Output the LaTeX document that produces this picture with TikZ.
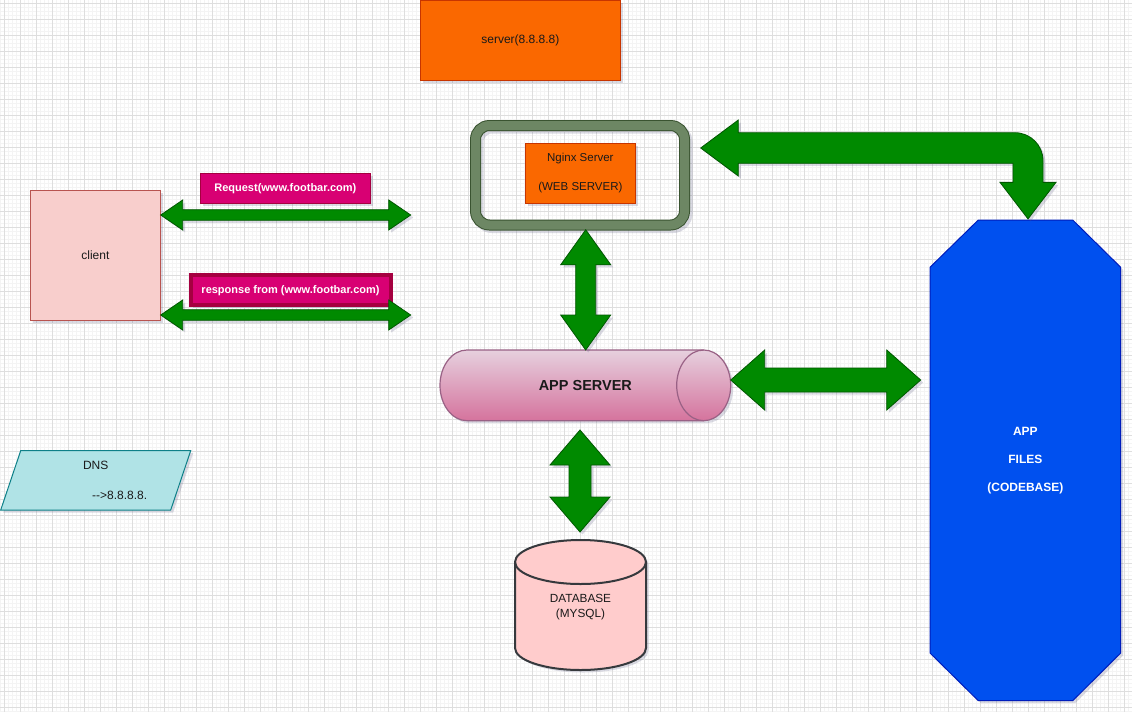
\documentclass[tikz,border=0pt]{standalone}
\usepackage{fontspec}
\setmainfont{Liberation Sans}
\usetikzlibrary{calc,shadows}

\definecolor{gridmajor}{HTML}{DEDEDE}
\definecolor{gridminor}{HTML}{F4F4F4}
\definecolor{orangefill}{HTML}{FA6800}
\definecolor{orangeline}{HTML}{C73500}
\definecolor{framedark}{HTML}{3A5431}
\definecolor{framegreen}{HTML}{6D8764}
\definecolor{clientfill}{HTML}{F8CECC}
\definecolor{clientline}{HTML}{B85450}
\definecolor{labelfill}{HTML}{D80073}
\definecolor{labelline}{HTML}{A50040}
\definecolor{arrowgreen}{HTML}{008A00}
\definecolor{arrowdark}{HTML}{005700}
\definecolor{apptop}{HTML}{E6D0DE}
\definecolor{appbottom}{HTML}{D5739D}
\definecolor{appline}{HTML}{996185}
\definecolor{dbfill}{HTML}{FFCCCC}
\definecolor{dbline}{HTML}{36393D}
\definecolor{dnsfill}{HTML}{B0E3E6}
\definecolor{dnsline}{HTML}{0E8088}
\definecolor{filesfill}{HTML}{0050EF}
\definecolor{filesline}{HTML}{001DBC}
\definecolor{shadowcol}{RGB}{90,90,130}
\definecolor{ink}{HTML}{1A1A1A}

% horizontal double block arrow: #1 left tip, #2 right tip,
% #3 half shaft, #4 half head, #5 head length
\newcommand\hblock[5]{%
  \path[blockarrow] let \p1=#1, \p2=#2 in
    (\x1,\y1) -- (\x1+#5,\y1+#4) -- (\x1+#5,\y1+#3) -- (\x2-#5,\y1+#3)
    -- (\x2-#5,\y1+#4) -- (\x2,\y1) -- (\x2-#5,\y1-#4) -- (\x2-#5,\y1-#3)
    -- (\x1+#5,\y1-#3) -- (\x1+#5,\y1-#4) -- cycle;}
% vertical double block arrow: #1 top tip, #2 bottom tip
\newcommand\vblock[5]{%
  \path[blockarrow] let \p1=#1, \p2=#2 in
    (\x1,\y1) -- (\x1+#4,\y1-#5) -- (\x1+#3,\y1-#5) -- (\x1+#3,\y2+#5)
    -- (\x1+#4,\y2+#5) -- (\x1,\y2) -- (\x1-#4,\y2+#5) -- (\x1-#3,\y2+#5)
    -- (\x1-#3,\y1-#5) -- (\x1-#4,\y1-#5) -- cycle;}

\begin{document}
\begin{tikzpicture}[x=1pt,y=-1pt,
  font=\fontsize{12}{14}\selectfont, text=ink,
  softshadow/.style={drop shadow={shadow xshift=2.5pt,shadow yshift=-2.5pt,opacity=0.22,fill=shadowcol}},
  box/.style={inner sep=0pt,outer sep=0pt,align=center},
  framedbox/.style={box,draw,line width=1pt,softshadow},
  orangebox/.style={framedbox,fill=orangefill,draw=orangeline},
  tagbox/.style={framedbox,fill=labelfill,draw=labelline,text=white,
    font=\fontsize{11}{13}\selectfont\bfseries},
  blockarrow/.style={fill=arrowgreen,draw=arrowdark,line width=0.8pt,softshadow},
  plainlabel/.style={box}]

\useasboundingbox (0,0) rectangle (1132,712);
\fill[white] (0,0) rectangle (1132,712);

% background grid
\draw[gridminor,line width=0.8pt]
  \foreach \x in {0,4,...,1132} {(\x,0) -- (\x,712)}
  \foreach \y in {3,7,...,711} {(0,\y) -- (1132,\y)};
\draw[gridmajor,line width=0.9pt]
  \foreach \x in {4,20,...,1132} {(\x,0) -- (\x,712)}
  \foreach \y in {3,19,...,711} {(0,\y) -- (1132,\y)};

% public server
\node[orangebox,minimum width=200,minimum height=80] (server) at (520.35,40) {server(8.8.8.8)};

% web server frame (a thick rounded band) and nginx box
\node[box,minimum width=209,minimum height=99.5] (nginxframe) at (580,175.25) {};
\draw[shadowcol,opacity=0.22,line width=11pt,rounded corners=14pt]
  ([shift={(2.5,2.5)}]nginxframe.south west) rectangle ([shift={(2.5,2.5)}]nginxframe.north east);
\draw[framedark,line width=11pt,rounded corners=14pt]
  (nginxframe.south west) rectangle (nginxframe.north east);
\draw[framegreen,line width=9pt,rounded corners=14pt]
  (nginxframe.south west) rectangle (nginxframe.north east);
\node[orangebox,minimum width=110.7,minimum height=60,
  font=\fontsize{11.5}{14}\selectfont] (nginx) at (580.35,173.3)
  {Nginx Server\\[15pt](WEB SERVER)};

% client and its request / response labels
\node[framedbox,fill=clientfill,draw=clientline,minimum width=130.7,minimum height=130]
  (client) at (95.35,255) {client};
\node[tagbox,minimum width=170.7,minimum height=30] (request) at (285.35,188.3)
  {Request(www.footbar.com)};
\node[tagbox,line width=4pt,minimum width=200,minimum height=30] (response) at (290.5,290.3)
  {response from (www.footbar.com)};

% app server cylinder
\path[softshadow,shading=axis,top color=apptop,bottom color=appbottom,draw=appline,line width=1.2pt]
  (467,350) arc[start angle=90,end angle=270,x radius=27pt,y radius=35.35pt]
  -- (703.7,420.7) arc[start angle=270,end angle=450,x radius=27pt,y radius=35.35pt] -- cycle;
\draw[appline,line width=1.2pt]
  (703.7,350) arc[start angle=90,end angle=270,x radius=27pt,y radius=35.35pt];
\node[plainlabel,minimum width=290.7,minimum height=70.7,
  font=\fontsize{14.5}{16}\selectfont\bfseries] (appsrv) at (585.35,385.35) {APP SERVER};

% database cylinder
\path[softshadow,fill=dbfill,draw=dbline,line width=2pt]
  (515,562) -- (515,648) arc[start angle=180,end angle=360,x radius=65.5pt,y radius=22pt]
  -- (646,562) arc[start angle=0,end angle=180,x radius=65.5pt,y radius=22pt] -- cycle;
\draw[dbline,line width=2pt]
  (515,562) arc[start angle=180,end angle=360,x radius=65.5pt,y radius=22pt];
\node[plainlabel,minimum width=131,minimum height=130,
  font=\fontsize{11.8}{15}\selectfont] (db) at (580.5,607) {DATABASE\\(MYSQL)};

% DNS record
\path[softshadow,fill=dnsfill,draw=dnsline,line width=1pt]
  (20.7,450.7) -- (190.7,450.7) -- (170.7,510) -- (0.7,510) -- cycle;
\node[plainlabel,minimum width=190,minimum height=59.3] (dns) at (95.7,480)
  {DNS\\[16pt]\hspace*{48pt}\mbox{-}\mbox{-}>8.8.8.8.};

% application files
\path[softshadow,fill=filesfill,draw=filesline,line width=1pt]
  (930,267.3) -- (978.3,220) -- (1072.7,220) -- (1120.7,267.3)
  -- (1120.7,653) -- (1072.7,700.7) -- (978.3,700.7) -- (930,653) -- cycle;
\node[plainlabel,text=white,minimum width=190.7,minimum height=480.7,
  font=\fontsize{12}{14}\selectfont\bfseries] (files) at (1025.35,461)
  {APP\\[14pt]FILES\\[14pt](CODEBASE)};

% connector end points
\coordinate (reqL) at ($(client.east)+(0,-40)$);
\coordinate (reqR) at (410.7,215);
\coordinate (resL) at ($(client.east)+(0,60)$);
\coordinate (resR) at (410.7,315);
\coordinate (cvL) at ($(nginxframe.east)+(16.2,-27.25)$);
\coordinate (cvB) at ($(files.north)+(2.65,-1.7)$);

% block arrows
\hblock{(reqL)}{(reqR)}{5.3pt}{15pt}{22pt}
\hblock{(resL)}{(resR)}{5.3pt}{15pt}{22pt}
\vblock{($(nginxframe.south)+(5.7,4.75)$)}{(appsrv.north)}{10pt}{25pt}{35pt}
\vblock{($(appsrv.south)+(-5.35,9.3)$)}{($(db.north)+(0,-10)$)}{11pt}{30pt}{35pt}
\hblock{($(appsrv.east)+(0,-5.35)$)}{($(files.west)+(-9.3,0)$)}{12pt}{30pt}{34pt}

% bent arrow between the web server and the code base
\path[blockarrow] let \p1=(cvL), \p2=(cvB) in
  (\x1,\y1) -- (\x1+37.6pt,\y1+28pt) -- (\x1+37.6pt,\y1+15.3pt)
  [rounded corners=28pt] -- (\x2+15pt,\y1+15.3pt) [sharp corners]
  -- (\x2+15pt,\y2+36.6pt) -- (\x2+28pt,\y2+36.6pt) -- (\x2,\y2)
  -- (\x2-28pt,\y2+36.6pt) -- (\x2-15pt,\y2+36.6pt) -- (\x2-15pt,\y1-15.3pt)
  -- (\x1+37.6pt,\y1-15.3pt) -- (\x1+37.6pt,\y1-28pt) -- cycle;

\end{tikzpicture}
\end{document}
